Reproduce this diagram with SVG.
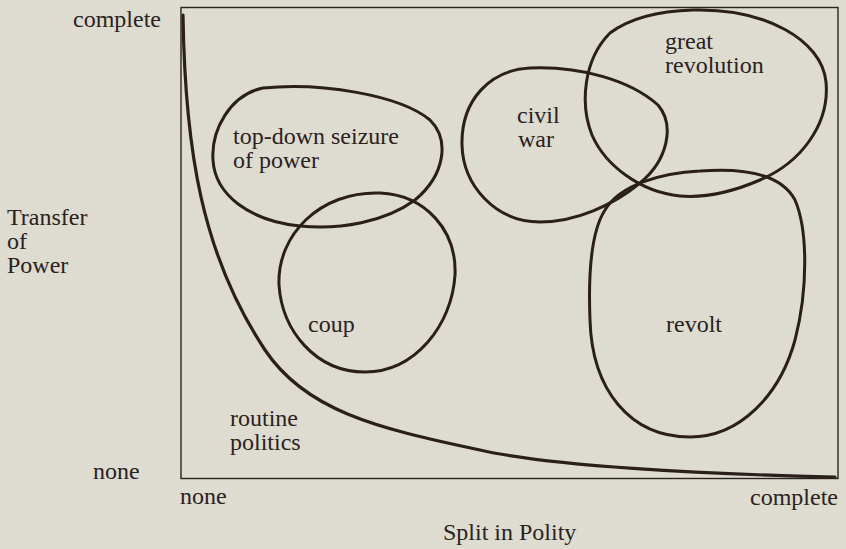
<svg xmlns="http://www.w3.org/2000/svg" width="846" height="549" viewBox="0 0 846 549">
<style>
.bg{fill:#dedbd0}
.frame{fill:none;stroke:#2b2220;stroke-width:1.4}
.blob{fill:none;stroke:#2b1f1c;stroke-width:3}
.curve{fill:none;stroke:#2b1f1c;stroke-width:3.2;stroke-linecap:round}
text{font-family:"Liberation Serif","Times New Roman",serif;font-size:24px;fill:#2b2220}
</style>
<rect class="bg" x="0" y="0" width="846" height="549"/>
<g id="axes">
<rect class="frame" x="181" y="7.5" width="657" height="471"/>
<text x="73" y="27">complete</text>
<text x="93" y="479">none</text>
<text x="180" y="504">none</text>
<text x="750" y="505">complete</text>
<text x="443" y="540">Split in Polity</text>
<text x="7" y="225">Transfer</text>
<text x="7" y="249">of</text>
<text x="7" y="273">Power</text>
</g>
<g id="connectors">
<path class="curve" d="M183,15 C185,150 202,255 265,350 C305,410 375,428 480,450 C550,466 700,474 835,477"/>
</g>
<g id="top-down">
<path class="blob" d="M263,88 C320,82 400,95 430,120 C450,140 445,175 415,200 C385,222 340,230 300,226 C250,221 215,195 213,160 C211,130 230,95 263,88 Z"/>
<text x="233" y="144">top-down seizure</text>
<text x="233" y="168">of power</text>
</g>
<g id="coup">
<path class="blob" d="M380,193 C425,195 457,230 455,275 C452,325 415,372 365,372 C315,372 282,330 279,285 C277,235 320,191 380,193 Z"/>
<text x="308" y="332">coup</text>
</g>
<g id="routine">
<text x="230" y="426">routine</text>
<text x="230" y="450">politics</text>
</g>
<g id="civil-war">
<path class="blob" d="M530,68 C580,66 630,80 658,105 C675,125 668,160 640,183 C612,206 575,222 540,222 C495,222 463,185 462,145 C461,100 490,70 530,68 Z"/>
<text x="517" y="123">civil</text>
<text x="518" y="147">war</text>
</g>
<g id="great-revolution">
<path class="blob" d="M693,10 C765,8 822,40 826,82 C830,125 800,163 760,180 C730,193 705,198 680,196 C640,192 605,165 592,135 C580,105 583,60 610,33 C630,18 660,11 693,10 Z"/>
<text x="665" y="49">great</text>
<text x="665" y="73">revolution</text>
</g>
<g id="revolt">
<path class="blob" d="M700,171 C740,168 780,172 795,200 C808,230 808,290 795,340 C780,395 740,437 690,437 C630,437 592,390 590,320 C588,270 592,230 605,210 C620,185 660,173 700,171 Z"/>
<text x="666" y="332">revolt</text>
</g>
</svg>
